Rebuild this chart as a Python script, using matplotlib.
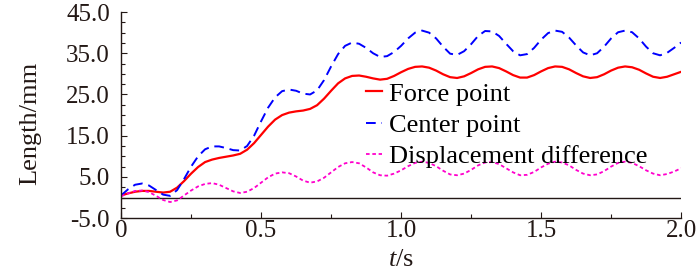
import matplotlib
matplotlib.use("Agg")
import matplotlib.pyplot as plt
from matplotlib.ticker import MultipleLocator

plt.rcParams['font.family'] = ['Liberation Serif', 'DejaVu Serif']
plt.rcParams['mathtext.fontset'] = 'custom'
plt.rcParams['mathtext.it'] = 'Liberation Serif:italic'
plt.rcParams['mathtext.rm'] = 'Liberation Serif'

# time samples, s
t = [0.000, 0.025, 0.050, 0.075, 0.100, 0.125, 0.150, 0.175, 0.200, 0.225,
     0.250, 0.275, 0.300, 0.325, 0.350, 0.375, 0.400, 0.425, 0.450, 0.475,
     0.500, 0.525, 0.550, 0.575, 0.600, 0.625, 0.650, 0.675, 0.700, 0.725,
     0.750, 0.775, 0.800, 0.825, 0.850, 0.875, 0.900, 0.925, 0.950, 0.975,
     1.000, 1.025, 1.050, 1.075, 1.100, 1.125, 1.150, 1.175, 1.200, 1.225,
     1.250, 1.275, 1.300, 1.325, 1.350, 1.375, 1.400, 1.425, 1.450, 1.475,
     1.500, 1.525, 1.550, 1.575, 1.600, 1.625, 1.650, 1.675, 1.700, 1.725,
     1.750, 1.775, 1.800, 1.825, 1.850, 1.875, 1.900, 1.925, 1.950, 1.975,
     2.000]

# force point, mm
force = [0.5, 1.0, 1.4, 1.6, 1.6, 1.4, 1.2, 1.4, 2.4, 4.0,
         5.8, 7.4, 8.6, 9.2, 9.6, 9.9, 10.2, 10.6, 11.6, 13.2,
         15.2, 17.2, 18.9, 20.0, 20.6, 20.9, 21.1, 21.5, 22.4, 24.0,
         25.9, 27.7, 28.9, 29.5, 29.6, 29.3, 28.9, 28.6, 28.8, 29.5,
         30.4, 31.2, 31.7, 31.8, 31.5, 30.8, 29.9, 29.2, 29.0, 29.4,
         30.2, 31.1, 31.7, 31.8, 31.4, 30.6, 29.7, 29.1, 29.1, 29.7,
         30.6, 31.4, 31.8, 31.7, 31.1, 30.2, 29.4, 29.0, 29.2, 29.9,
         30.8, 31.5, 31.8, 31.6, 31.0, 30.1, 29.3, 29.0, 29.3, 29.9,
         30.5]

# center point, mm
center = [0.5, 2.0, 3.1, 3.4, 2.9, 1.8, 0.7, 0.4, 1.8, 4.5,
          7.5, 10.0, 11.7, 12.4, 12.4, 12.0, 11.5, 11.4, 12.5, 15.0,
          18.5, 21.8, 24.3, 25.8, 26.2, 25.9, 25.2, 25.0, 26.0, 28.5,
          31.8, 34.8, 36.8, 37.6, 37.3, 36.3, 35.0, 34.1, 34.3, 35.3,
          36.8, 38.6, 40.0, 40.5, 40.0, 38.6, 36.6, 34.9, 34.6, 35.5,
          37.2, 39.2, 40.4, 40.3, 39.2, 37.3, 35.5, 34.5, 34.8, 36.3,
          38.3, 39.9, 40.5, 40.2, 38.8, 36.9, 35.2, 34.5, 35.0, 36.6,
          38.6, 40.1, 40.5, 40.1, 38.6, 36.6, 35.0, 34.5, 35.1, 36.3,
          37.6]

# displacement difference, mm
diff = [0.3, 1.0, 1.6, 1.7, 1.3, 0.4, -0.6, -1.1, -0.7, 0.5,
        1.7, 2.7, 3.3, 3.5, 3.1, 2.3, 1.5, 1.1, 1.4, 2.3,
        3.6, 4.9, 5.8, 6.1, 5.9, 5.1, 4.1, 3.6, 3.9, 4.8,
        6.1, 7.4, 8.3, 8.6, 8.3, 7.3, 6.1, 5.4, 5.3, 5.8,
        6.6, 7.6, 8.4, 8.7, 8.4, 7.6, 6.5, 5.6, 5.4, 5.8,
        6.7, 7.8, 8.5, 8.6, 8.1, 7.1, 6.1, 5.4, 5.5, 6.2,
        7.3, 8.2, 8.7, 8.5, 7.8, 6.7, 5.8, 5.4, 5.6, 6.4,
        7.5, 8.4, 8.7, 8.4, 7.6, 6.6, 5.8, 5.4, 5.7, 6.3,
        7.1]

yticks = [-5, 5, 15, 25, 35, 45]
ytick_labels = ['-5.0', '5.0', '15.0', '25.0', '35.0', '45.0']
xticks = [0, 0.5, 1.0, 1.5, 2.0]
xtick_labels = ['0', '0.5', '1.0', '1.5', '2.0']

ink = '#231815'

fig = plt.figure(figsize=(7, 2.8), dpi=100)
ax = fig.add_axes([0.173, 0.221, 0.80, 0.736])

ax.axhline(0, color=ink, lw=1.0, zorder=1)
ax.plot(t, force, color='#ff0000', lw=1.6, label='Force point')
ax.plot(t, center, color='#0000ff', lw=1.4, ls=(0, (5, 3)), label='Center point')
ax.plot(t, diff, color='#ff00cc', lw=1.3, ls=(0, (2, 1.5)), label='Displacement difference')

ax.set_xlim(0, 2.0)
ax.set_ylim(-5, 45)
ax.xaxis.set_minor_locator(MultipleLocator(0.25))
ax.yaxis.set_minor_locator(MultipleLocator(2.5))
ax.set_yticks(yticks)
ax.set_yticklabels(ytick_labels)
ax.set_xticks(xticks)
ax.set_xticklabels(xtick_labels)

for s in ['top', 'right']:
    ax.spines[s].set_visible(False)
for s in ['left', 'bottom']:
    ax.spines[s].set_color(ink)
    ax.spines[s].set_linewidth(1.0)

ax.tick_params(which='both', direction='in', colors=ink, labelsize=18, width=0.8)
ax.tick_params(which='major', length=4)
ax.tick_params(which='minor', length=3)
ax.tick_params(axis='x', pad=1)
ax.tick_params(axis='y', pad=8)

ax.set_ylabel('Length/mm', fontsize=19, color=ink)
ax.yaxis.set_label_coords(-0.163, 0.46)
ax.set_xlabel(r'$t$/s', fontsize=19, color=ink)
ax.xaxis.set_label_coords(0.5, -0.205)
ax.xaxis.label.set_verticalalignment('center')
ax.yaxis.label.set_verticalalignment('center')

ax.legend(loc='upper left', bbox_to_anchor=(0.4375, 0.66), frameon=False,
          fontsize=19, handlelength=0.6, handletextpad=0.25,
          labelspacing=0.3, borderaxespad=0, borderpad=0)

fig.savefig('out.png', dpi=100)
